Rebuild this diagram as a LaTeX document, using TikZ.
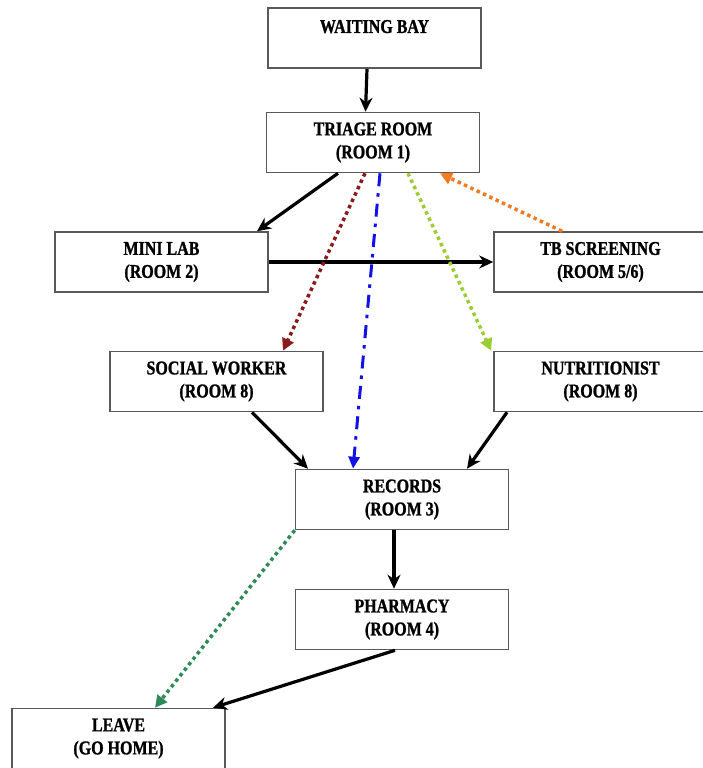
\documentclass[tikz,border=0pt]{standalone}
\usepackage{fontspec}
\setmainfont{Liberation Serif}[FakeStretch=0.82, BoldFeatures={FakeBold=1.2}]
\usetikzlibrary{arrows.meta}
\definecolor{brick}{HTML}{8B1A1A}
\definecolor{leaf}{HTML}{9ACD32}
\definecolor{flame}{HTML}{F47A20}
\definecolor{sea}{HTML}{2E8B57}
\definecolor{royal}{HTML}{1212E6}
\tikzset{
  room/.style={draw=black!65, line width=1.6pt, minimum width=213pt, minimum height=60pt,
    inner sep=0pt, align=center, font=\fontsize{19.5}{23}\selectfont\bfseries},
  flow/.style={line width=3.2pt, -{Stealth[length=14pt,width=13pt]}},
  dots/.style={line width=3.5pt, dash pattern=on 3.5pt off 3.5pt, -{Triangle[length=12pt,width=12pt]}},
  dashdot/.style={line width=3pt, dash pattern=on 13pt off 7pt on 3.5pt off 7pt, -{Triangle[length=12pt,width=11pt]}}
}
\begin{document}
\begin{tikzpicture}[x=1pt,y=-1pt]
\useasboundingbox (0,0) rectangle (702,768);
% rooms
\node[room] (wait)    at (374.5,38)  {WAITING BAY\\\mbox{}};
\node[room] (triage)  at (373,142.5) {TRIAGE ROOM\\(ROOM 1)};
\node[room] (lab)     at (161.5,262) {MINI LAB\\(ROOM 2)};
\node[room] (tb)      at (600.5,262) {TB SCREENING\\(ROOM 5/6)};
\node[room] (social)  at (216.5,381.5) {SOCIAL WORKER\\(ROOM 8)};
\node[room] (nutri)   at (600.5,381.5) {NUTRITIONIST\\(ROOM 8)};
\node[room] (records) at (402,499.5) {RECORDS\\(ROOM 3)};
\node[room] (pharm)   at (402,619.5) {PHARMACY\\(ROOM 4)};
\node[room] (leave)   at (118.5,738.5) {LEAVE\\(GO HOME)};
% main flow
\draw[flow] ([xshift=-7.5pt]wait.south) -- ([xshift=-7.5pt]triage.north);
\draw[flow] ([xshift=-35pt]triage.south) -- ([xshift=95.5pt]lab.north);
\draw[flow] (lab.east) -- (tb.west);
\draw[flow] ([xshift=35.5pt]social.south) -- ([xshift=-94pt]records.north);
\draw[flow] ([xshift=-93.5pt]nutri.south) -- ([xshift=65pt]records.north);
\draw[flow] ([xshift=-8pt]records.south) -- ([xshift=-8pt]pharm.north);
\draw[flow] ([xshift=-7pt]pharm.south) -- ([xshift=94.5pt]leave.north);
% referrals
\draw[dots,brick] ([xshift=-8pt]triage.south) -- ([xshift=66.5pt]social.north);
\draw[dashdot,royal] ([xshift=7pt]triage.south) -- ([xshift=-49pt]records.north);
\draw[dots,leaf] ([xshift=35pt]triage.south) -- ([xshift=-2pt]nutri.north west);
\draw[dots,flame] ([xshift=-38.5pt]tb.north) -- ([xshift=67pt]triage.south);
\draw[dots,sea] (records.south west) -- ([xshift=36.5pt]leave.north);
\end{tikzpicture}
\end{document}
